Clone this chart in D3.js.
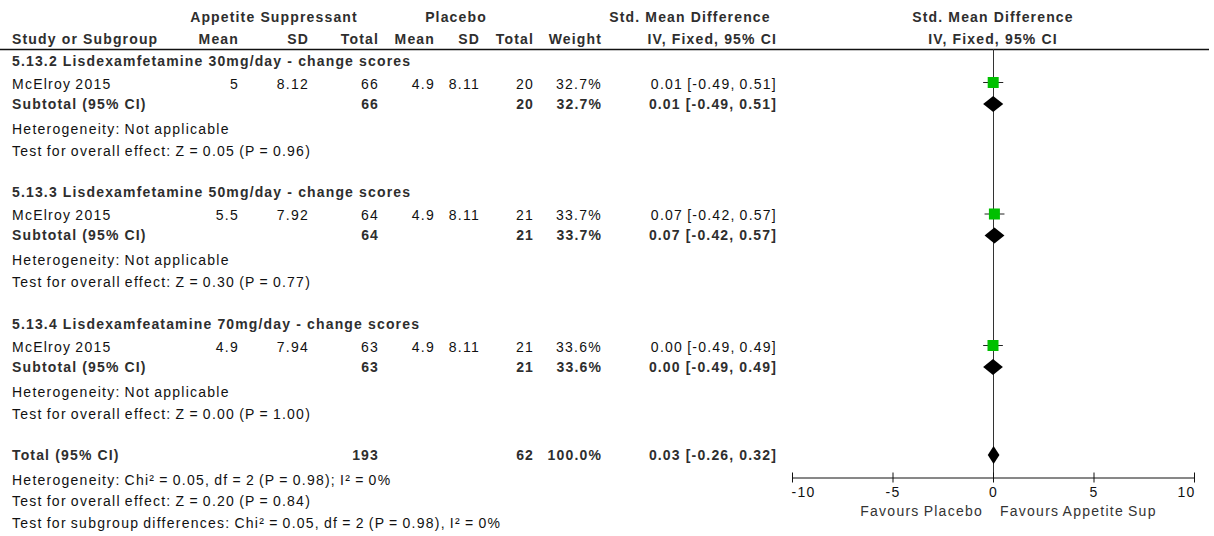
<!DOCTYPE html>
<html><head><meta charset="utf-8">
<script src="https://cdn.jsdelivr.net/npm/d3@7"></script>
<style>
body{margin:0;background:#fff;}
svg text{font-family:"Liberation Sans",Arial,sans-serif;font-size:14px;fill:#111;}
svg text.b{font-weight:bold;fill:#2e2e2e;letter-spacing:1.15px;}
svg text.r{letter-spacing:1.25px;word-spacing:-1.1px;}
</style></head><body><svg id="c" width="1214" height="536"></svg>
<script>
// ---------- data ----------
const subgroupTitles = [
  "5.13.2 Lisdexamfetamine 30mg/day - change scores",
  "5.13.3 Lisdexamfetamine 50mg/day - change scores",
  "5.13.4 Lisdexamfeatamine 70mg/day - change scores"
];
const studyNames = ["McElroy 2015", "McElroy 2015", "McElroy 2015"];
const expMean = [5, 5.5, 4.9];
const expSD = [8.12, 7.92, 7.94];
const expTotal = [66, 64, 63];
const ctlMean = [4.9, 4.9, 4.9];
const ctlSD = [8.11, 8.11, 8.11];
const ctlTotal = [20, 21, 21];
const weights = [32.7, 33.7, 33.6];
const smd = [0.01, 0.07, 0.00];
const ciLow = [-0.49, -0.42, -0.49];
const ciHigh = [0.51, 0.57, 0.49];
const subHeterogeneity = ["Heterogeneity: Not applicable", "Heterogeneity: Not applicable", "Heterogeneity: Not applicable"];
const subEffect = [
  "Test for overall effect: Z = 0.05 (P = 0.96)",
  "Test for overall effect: Z = 0.30 (P = 0.77)",
  "Test for overall effect: Z = 0.00 (P = 1.00)"
];
const totalLabel = "Total (95% CI)";
const totalExp = 193, totalCtl = 62, totalWeight = 100.0;
const totalSmd = 0.03, totalLow = -0.26, totalHigh = 0.32;
const totalNotes = [
  "Heterogeneity: Chi\u00B2 = 0.05, df = 2 (P = 0.98); I\u00B2 = 0%",
  "Test for overall effect: Z = 0.20 (P = 0.84)",
  "Test for subgroup differences: Chi\u00B2 = 0.05, df = 2 (P = 0.98), I\u00B2 = 0%"
];
const axisTicks = [-10, -5, 0, 5, 10];
const favoursLabels = ["Favours Placebo", "Favours Appetite Sup"];

// ---------- layout ----------
const svg = d3.select("#c");
const x = d3.scaleLinear().domain([-10, 10]).range([792, 1194]);
const hy = s => s.replace(/\u2212/g, "-");
const f2 = v => hy(d3.format(".2f")(v)), f1 = v => hy(d3.format(".1f")(v));
const col = {study: 12, eMean: 239, eSD: 309, eTot: 379, cMean: 435, cSD: 480, cTot: 534, wt: 602, ci: 777};
const groupTop = i => 61 + i * 131.5;

function txt(xp, y, s, cls, anchor) {
  return svg.append("text").attr("x", xp).attr("y", y).attr("dy", "0.35em")
    .attr("class", cls).attr("text-anchor", anchor || "start").text(s);
}
const ciText = (m, l, h) => `${f2(m)} [${f2(l)}, ${f2(h)}]`;

// headers
txt(274, 17, "Appetite Suppressant", "b", "middle");
txt(456, 17, "Placebo", "b", "middle");
txt(690, 17, "Std. Mean Difference", "b", "middle");
txt(x(0), 17, "Std. Mean Difference", "b", "middle");
txt(col.study, 39, "Study or Subgroup", "b");
txt(col.eMean, 39, "Mean", "b", "end");
txt(col.eSD, 39, "SD", "b", "end");
txt(col.eTot, 39, "Total", "b", "end");
txt(col.cMean, 39, "Mean", "b", "end");
txt(col.cSD, 39, "SD", "b", "end");
txt(col.cTot, 39, "Total", "b", "end");
txt(col.wt, 39, "Weight", "b", "end");
txt(col.ci, 39, "IV, Fixed, 95% CI", "b", "end");
txt(x(0), 39, "IV, Fixed, 95% CI", "b", "middle");
svg.append("line").attr("x1", 0).attr("x2", 1209).attr("y1", 49.5).attr("y2", 49.5)
  .attr("stroke", "#111").attr("stroke-width", 1.5);

// zero line
svg.append("line").attr("x1", x(0) + 0.5).attr("x2", x(0) + 0.5).attr("y1", 49).attr("y2", 477)
  .attr("stroke", "#333").attr("stroke-width", 1);

// subgroups
subgroupTitles.forEach((t, i) => {
  const g = groupTop(i);
  const ys = g + 23, yt = g + 43;
  txt(col.study, g, t, "b");
  txt(col.study, ys, studyNames[i], "r");
  txt(col.eMean, ys, String(expMean[i]), "r", "end");
  txt(col.eSD, ys, String(expSD[i]), "r", "end");
  txt(col.eTot, ys, String(expTotal[i]), "r", "end");
  txt(col.cMean, ys, String(ctlMean[i]), "r", "end");
  txt(col.cSD, ys, String(ctlSD[i]), "r", "end");
  txt(col.cTot, ys, String(ctlTotal[i]), "r", "end");
  txt(col.wt, ys, f1(weights[i]) + "%", "r", "end");
  txt(col.ci, ys, ciText(smd[i], ciLow[i], ciHigh[i]), "r", "end");
  txt(col.study, yt, "Subtotal (95% CI)", "b");
  txt(col.eTot, yt, String(expTotal[i]), "b", "end");
  txt(col.cTot, yt, String(ctlTotal[i]), "b", "end");
  txt(col.wt, yt, f1(weights[i]) + "%", "b", "end");
  txt(col.ci, yt, ciText(smd[i], ciLow[i], ciHigh[i]), "b", "end");
  txt(col.study, g + 68, subHeterogeneity[i], "r");
  txt(col.study, g + 90, subEffect[i], "r");

  // study marker
  const sy = ys - 2;
  svg.append("line").attr("x1", x(ciLow[i])).attr("x2", x(ciHigh[i])).attr("y1", sy + 0.5).attr("y2", sy + 0.5)
    .attr("stroke", "#222").attr("stroke-width", 1);
  const sz = 11;
  svg.append("rect").attr("x", x(smd[i]) - sz / 2).attr("y", sy - sz / 2 + 0.5).attr("width", sz).attr("height", sz)
    .attr("fill", "#00c000");
  // subtotal diamond
  const dy = yt, h = 8;
  svg.append("path").attr("d", `M${x(ciLow[i])},${dy} L${x(smd[i])},${dy - h} L${x(ciHigh[i])},${dy} L${x(smd[i])},${dy + h} Z`)
    .attr("fill", "#000");
});

// total
const ty = 455;
txt(col.study, ty, totalLabel, "b");
txt(col.eTot, ty, String(totalExp), "b", "end");
txt(col.cTot, ty, String(totalCtl), "b", "end");
txt(col.wt, ty, f1(totalWeight) + "%", "b", "end");
txt(col.ci, ty, ciText(totalSmd, totalLow, totalHigh), "b", "end");
svg.append("path").attr("d", `M${x(totalLow)},${ty} L${x(totalSmd)},${ty - 9} L${x(totalHigh)},${ty} L${x(totalSmd)},${ty + 9} Z`)
  .attr("fill", "#000");
totalNotes.forEach((t, i) => txt(col.study, 480 + i * 21.5, t, "r"));

// axis
const ax = svg.append("g").attr("transform", "translate(0,477.5)")
  .call(d3.axisBottom(x).tickValues(axisTicks).tickSizeOuter(0));
ax.select(".domain").attr("stroke", "#111");
ax.selectAll(".tick line").attr("y1", -5).attr("y2", 5).attr("stroke", "#111");
ax.selectAll(".tick text").attr("y", 15).attr("dy", "0.35em").attr("class", "r")
  .attr("fill", "#111")
  .attr("text-anchor", (d, i) => i === 0 ? "start" : (i === axisTicks.length - 1 ? "end" : "middle"))
  .attr("dx", (d, i) => i === 0 ? -1 : (i === axisTicks.length - 1 ? 1 : 0))
  .text(d => hy(d3.format("d")(d)));
ax.attr("font-family", null).attr("font-size", null);
txt(x(0) - 10, 511, favoursLabels[0], "r", "end").style("fill", "#333");
txt(x(0) + 7, 511, favoursLabels[1], "r", "start").style("fill", "#333");
</script></body></html>
